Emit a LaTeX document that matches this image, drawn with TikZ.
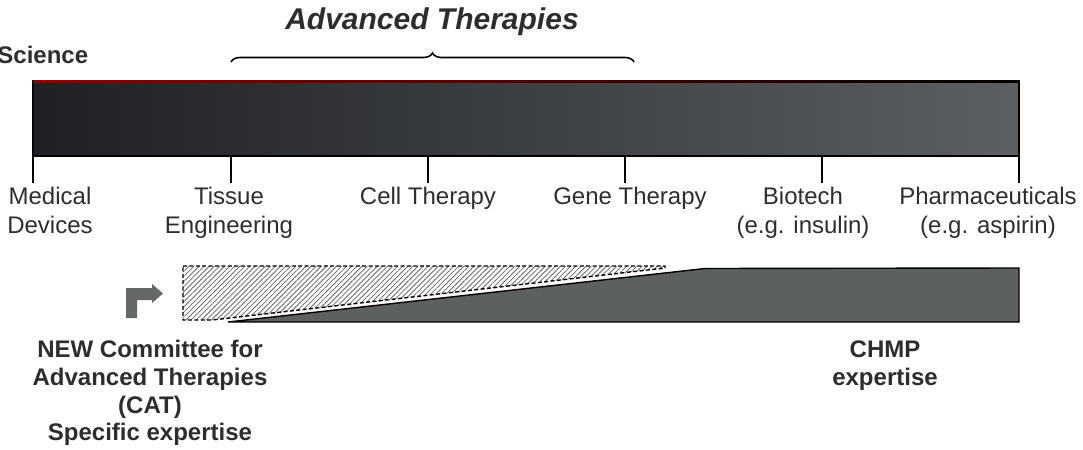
\documentclass[tikz,border=0pt]{standalone}
\usepackage{fontspec}
\setmainfont{Liberation Sans}
\usetikzlibrary{positioning,patterns.meta,decorations.pathreplacing}
\definecolor{bardark}{RGB}{30,32,35}
\definecolor{barlight}{RGB}{92,96,98}
\definecolor{chmpgrey}{RGB}{92,96,96}
\definecolor{arrowgrey}{RGB}{100,104,104}
\definecolor{textgrey}{RGB}{45,45,45}

\begin{document}
\begin{tikzpicture}[
        x=0.5pt, y=-0.5pt,
        % light labels under the scale, bold captions elsewhere
        lbl/.style={font=\fontsize{12}{14.5}\selectfont, align=center, text=textgrey, inner sep=0pt, anchor=base},
        caption/.style={font=\bfseries\fontsize{12}{13.9}\selectfont, align=center, text=textgrey, inner sep=0pt},
        tick/.style={line width=0.6pt}
    ]
        \useasboundingbox (0,0) rectangle (1083,450);

        % Scale bar
        \shade[left color=bardark, right color=barlight, draw=black, line width=0.6pt] (33,81) rectangle (1019,156);
        \shade[left color=red!55!black, right color=black] (33,80.8) rectangle (1019,82);
        \foreach \x in {33,231,428,625,822,1019}
            \draw[tick] (\x,156) -- (\x,183);

        \node[caption, anchor=west] (science) at (-3,55) {Science};
        \node[caption, font=\bfseries\itshape\fontsize{15}{17}\selectfont] (advanced) at (432,22) {Advanced Therapies};
        \draw[decorate, decoration={brace, amplitude=4.5pt}, line width=0.8pt] (231,62) -- (634,62);

        % Product classes (base = last line)
        \node[lbl] (devices) at (50,233) {Medical\\Devices};
        \node[lbl] (tissue) at (229,233) {Tissue\\Engineering};
        \node[lbl] (cell) at (428,204) {Cell Therapy};
        \node[lbl] (gene) at (630,204) {Gene Therapy};
        \node[lbl] (biotech) at (803,233) {Biotech\\(e.g. insulin)};
        \node[lbl] (pharma) at (988,233) {Pharmaceuticals\\(e.g. aspirin)};

        % Expertise bands
        \draw[dash pattern=on 2pt off 1.2pt, line width=0.7pt,
            pattern={Lines[angle=45,distance=1.8pt,line width=0.4pt]}, pattern color=black!60]
            (183,266) -- (665,266) -- (665,268) -- (212,320) -- (183,320) -- cycle;
        \draw[fill=chmpgrey, line width=0.7pt] (228,322) -- (705,268.5) -- (1019,268) -- (1019,322) -- cycle;
        \fill[arrowgrey] (126,318) -- (126,288) -- (152,288) -- (152,284) -- (163,293.5)
            -- (152,303) -- (152,300) -- (137,300) -- (137,318) -- cycle;

        \node[caption] (cat) at (150,393) {NEW Committee for\\Advanced Therapies\\(CAT)\\Specific expertise};
        \node[caption] (chmp) at (885,366) {CHMP\\expertise};
    \end{tikzpicture}
\end{document}
